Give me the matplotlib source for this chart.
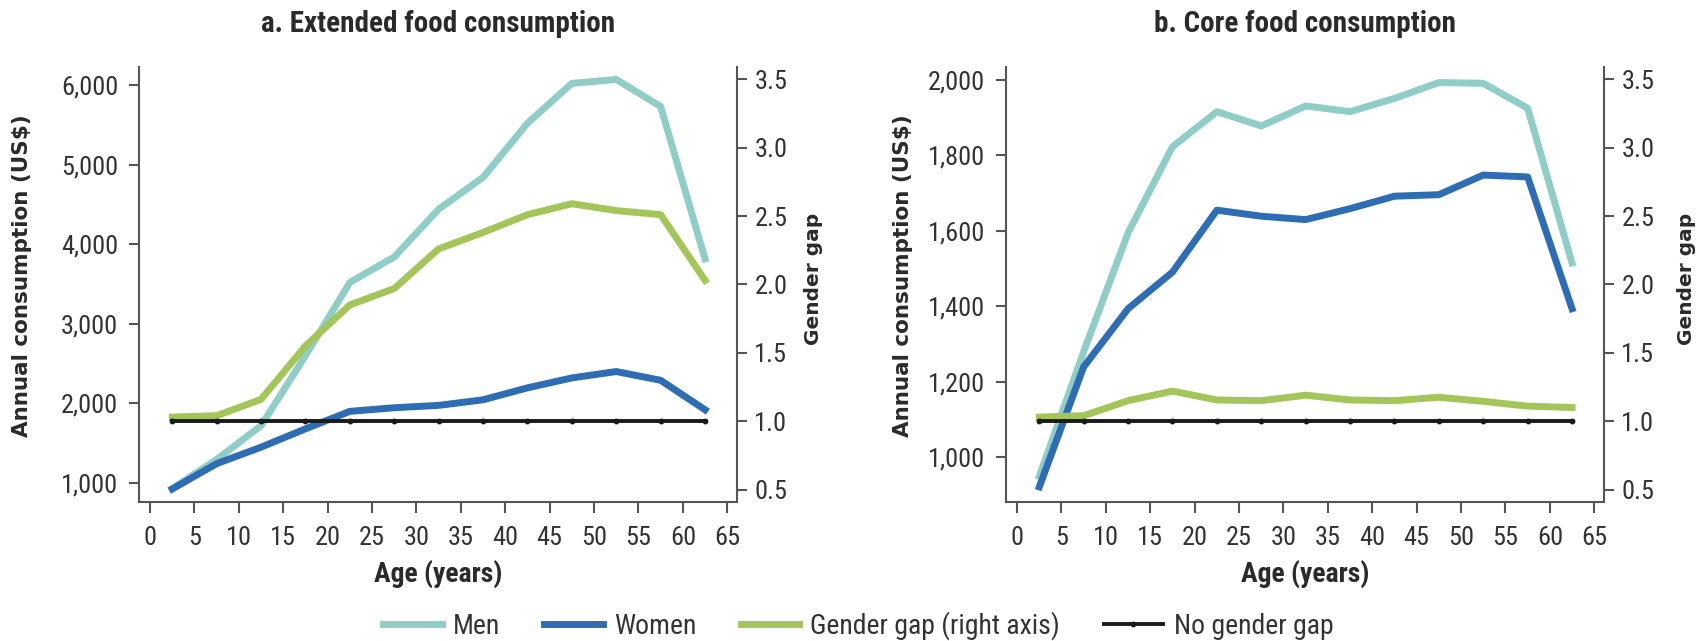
import matplotlib
matplotlib.use('Agg')
import matplotlib.pyplot as plt
from matplotlib import rcParams, font_manager
from matplotlib.ticker import FuncFormatter

TEXT_COLOR = '#333333'
SPINE_COLOR = '#555555'
MEN_COLOR = '#8fcdc6'
WOMEN_COLOR = '#2e6db4'
GAP_COLOR = '#a3c55a'
NOGAP_COLOR = '#1a1a1a'

# midpoints of the 5-year age groups
ages = [2.5, 7.5, 12.5, 17.5, 22.5, 27.5, 32.5, 37.5, 42.5, 47.5, 52.5, 57.5, 62.5]

# a. extended food consumption (US$ per year)
ext_men = [930, 1295, 1720, 2600, 3520, 3840, 4440, 4840, 5520, 6020, 6070, 5730, 3815]
ext_women = [925, 1243, 1450, 1680, 1900, 1945, 1975, 2045, 2195, 2320, 2400, 2290, 1920]
ext_gap = [1.03, 1.04, 1.16, 1.55, 1.85, 1.97, 2.26, 2.38, 2.51, 2.59, 2.54, 2.51, 2.03]

# b. core food consumption (US$ per year)
core_men = [950, 1280, 1595, 1823, 1916, 1878, 1931, 1916, 1951, 1993, 1991, 1925, 1515]
core_women = [922, 1240, 1394, 1491, 1655, 1639, 1630, 1659, 1692, 1696, 1748, 1743, 1394]
core_gap = [1.03, 1.04, 1.15, 1.22, 1.155, 1.15, 1.19, 1.155, 1.15, 1.175, 1.145, 1.11, 1.10]

no_gap = [1.0, 1.0, 1.0, 1.0, 1.0, 1.0, 1.0, 1.0, 1.0, 1.0, 1.0, 1.0, 1.0]

x_ticks = [0, 5, 10, 15, 20, 25, 30, 35, 40, 45, 50, 55, 60, 65]
gap_ticks = [0.5, 1.0, 1.5, 2.0, 2.5, 3.0, 3.5]

W, H = 1703, 641


def pick_narrow_font():
    # look for a condensed face; fall back on the plain family with a smaller size
    fonts = font_manager.fontManager.ttflist
    names = {f.name for f in fonts}
    for name in ['Liberation Sans Narrow', 'Roboto Condensed', 'Open Sans Condensed',
                 'Noto Sans Condensed', 'DejaVu Sans Condensed']:
        if name in names:
            return name, 'normal', 1.0
    for family in ['Roboto', 'Noto Sans', 'Open Sans', 'DejaVu Sans']:
        for f in fonts:
            if f.name == family and f.stretch in ('condensed', 'semi-condensed',
                                                  'extra-condensed', 300, 400):
                return family, 'condensed', 1.0
    return 'Roboto', 'normal', 0.88


NARROW, STRETCH, SCALE = pick_narrow_font()
rcParams['font.family'] = [NARROW, 'DejaVu Sans']
rcParams['font.stretch'] = STRETCH


def fs(size):
    return size * SCALE


def style_spines(ax, visible):
    for side in ['left', 'right', 'top', 'bottom']:
        ax.spines[side].set_visible(side in visible)
        ax.spines[side].set_color(SPINE_COLOR)
        ax.spines[side].set_linewidth(1.5)


def draw_panel(fig, left_px, title, men, women, gap, ylim, yticks, ylabel_x, gap_label_x):
    rect = [left_px / W, 1 - 502 / H, 598 / W, (502 - 66.7) / H]
    ax = fig.add_axes(rect)
    ax2 = ax.twinx()

    l_men, = ax.plot(ages, men, color=MEN_COLOR, lw=5, label='Men')
    l_women, = ax.plot(ages, women, color=WOMEN_COLOR, lw=5, label='Women')
    l_gap, = ax2.plot(ages, gap, color=GAP_COLOR, lw=5, label='Gender gap (right axis)')
    l_nogap, = ax2.plot(ages, no_gap, color=NOGAP_COLOR, lw=2.8, marker='o', ms=3.2,
                        label='No gender gap')

    ax.set_xlim(-1.25, 66.1)
    ax.set_ylim(*ylim)
    ax2.set_ylim(0.409, 3.592)
    ax.set_xticks(x_ticks)
    ax.set_yticks(yticks)
    ax2.set_yticks(gap_ticks)
    ax.yaxis.set_major_formatter(FuncFormatter(lambda v, p: f'{v:,.0f}'))
    ax2.yaxis.set_major_formatter(FuncFormatter(lambda v, p: f'{v:.1f}'))

    style_spines(ax, ['left', 'bottom'])
    style_spines(ax2, ['right'])

    ax.tick_params(axis='y', length=7, width=1.5, color=SPINE_COLOR, pad=8,
                   labelsize=fs(19), labelcolor=TEXT_COLOR)
    ax.tick_params(axis='x', length=8, width=1.5, color=SPINE_COLOR, pad=9,
                   labelsize=fs(19), labelcolor=TEXT_COLOR)
    ax2.tick_params(axis='y', length=7, width=1.5, color=SPINE_COLOR, pad=5.5,
                    labelsize=fs(19), labelcolor=TEXT_COLOR)

    ax.set_title(title, fontsize=fs(21), fontweight='bold', color='#2a2a2a', pad=25)
    ax.set_xlabel('Age (years)', fontsize=fs(20), fontweight='bold', color='#2a2a2a',
                  labelpad=7)
    ax.set_ylabel('Annual consumption (US$)', fontsize=15.5, fontweight='bold',
                  color='#2a2a2a', family='DejaVu Sans', stretch='normal')
    ax.yaxis.set_label_coords(ylabel_x, 0.52)
    ax2.set_ylabel('Gender gap', fontsize=14.5, fontweight='bold', color='#2a2a2a',
                   family='DejaVu Sans', stretch='normal')
    ax2.yaxis.set_label_coords(gap_label_x, 0.513)

    return [l_men, l_women, l_gap, l_nogap]


fig = plt.figure(figsize=(W / 100, H / 100), dpi=100)

handles = draw_panel(fig, 139, 'a. Extended food consumption',
                     ext_men, ext_women, ext_gap,
                     (761, 6230), [1000, 2000, 3000, 4000, 5000, 6000], -0.179, 1.112)
draw_panel(fig, 1006, 'b. Core food consumption',
           core_men, core_women, core_gap,
           (882, 2035), [1000, 1200, 1400, 1600, 1800, 2000], -0.156, 1.122)

leg = fig.legend(handles=handles, loc='center', bbox_to_anchor=(0.504, 0.0234),
                 ncol=4, frameon=False, fontsize=fs(20), handlelength=2.1,
                 handletextpad=0.4, columnspacing=1.6)
for t in leg.get_texts():
    t.set_color(TEXT_COLOR)

plt.savefig('out.png', dpi=100)
plt.close()
